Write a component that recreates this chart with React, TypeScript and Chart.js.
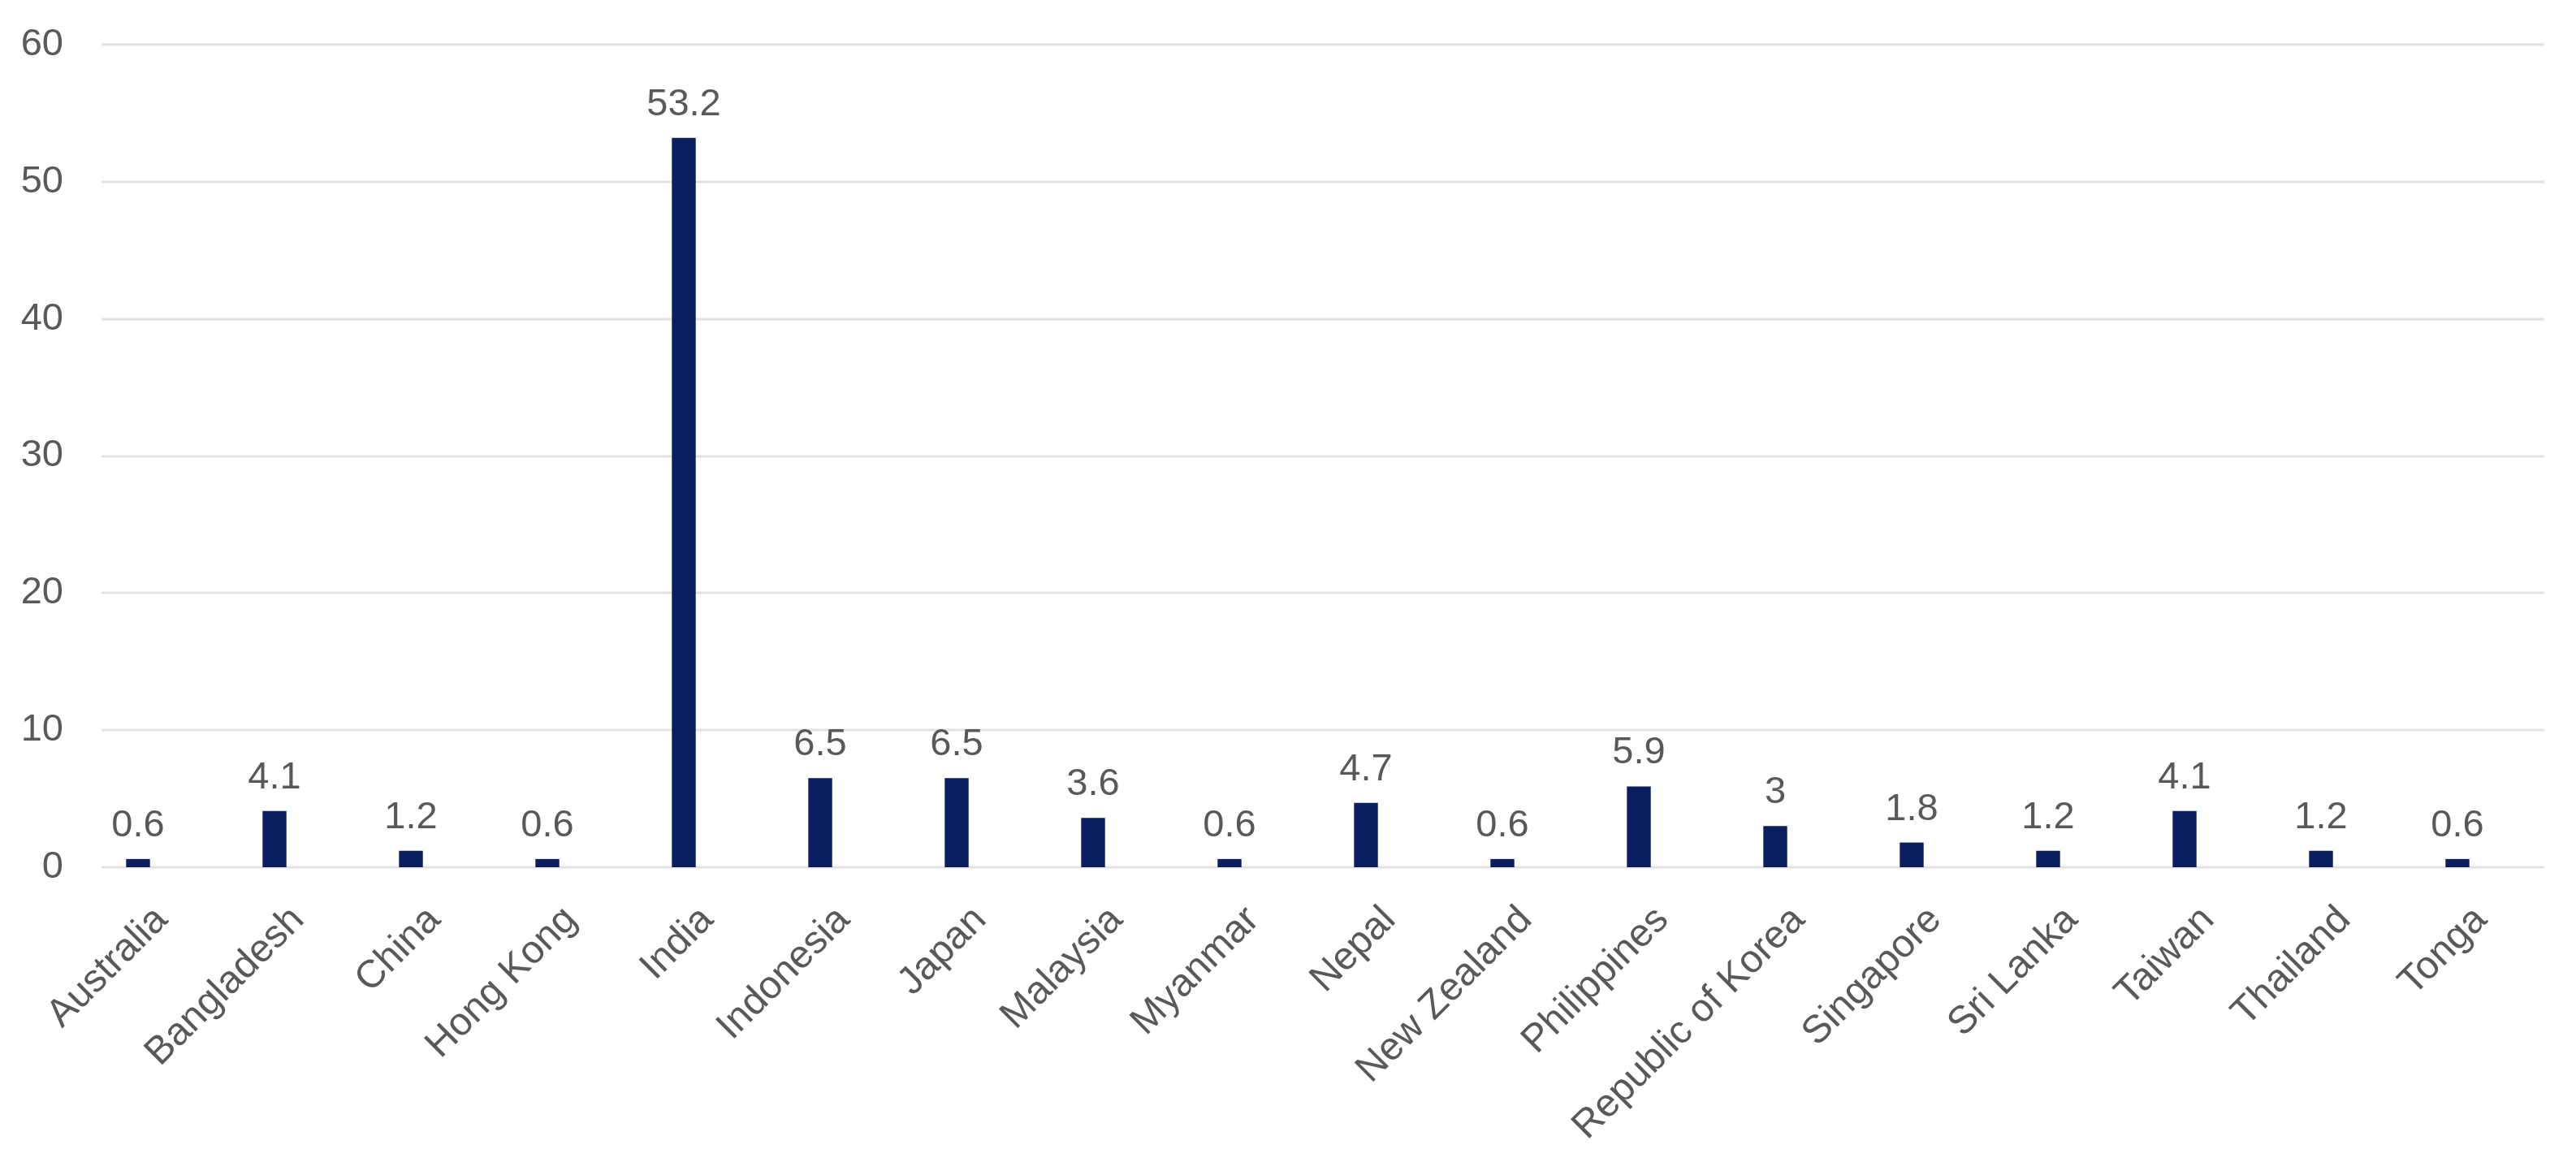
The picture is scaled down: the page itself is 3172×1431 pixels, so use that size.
import React, { useEffect, useRef } from "react";
import { Chart, registerables } from "chart.js";

Chart.register(...registerables);

const categories = [
  "Australia", "Bangladesh", "China", "Hong Kong", "India", "Indonesia",
  "Japan", "Malaysia", "Myanmar", "Nepal", "New Zealand", "Philippines",
  "Republic of Korea", "Singapore", "Sri Lanka", "Taiwan", "Thailand", "Tonga",
];
const values = [0.6, 4.1, 1.2, 0.6, 53.2, 6.5, 6.5, 3.6, 0.6, 4.7, 0.6, 5.9, 3, 1.8, 1.2, 4.1, 1.2, 0.6];
const yTicks = [0, 10, 20, 30, 40, 50, 60];

const W = 3172;
const H = 1431;
const FONT = "'Liberation Sans', Arial, sans-serif";
const TEXT = "#595959";
const GRID = "#e2e2e2";

// horizontal gridlines (the reference's gridlines are shifted slightly right of the bar bands)
const gridLines = {
  id: "gridLines",
  beforeDatasetsDraw(chart: any) {
    const ctx = chart.ctx;
    const y = chart.scales.y;
    const area = chart.chartArea;
    ctx.save();
    ctx.strokeStyle = GRID;
    ctx.lineWidth = 3;
    yTicks.forEach((v) => {
      const py = Math.round(y.getPixelForValue(v));
      ctx.beginPath();
      ctx.moveTo(area.left + 39, py);
      ctx.lineTo(area.right + 23, py);
      ctx.stroke();
    });
    ctx.restore();
  },
};

const valueLabels = {
  id: "valueLabels",
  afterDatasetsDraw(chart: any) {
    const ctx = chart.ctx;
    const meta = chart.getDatasetMeta(0);
    ctx.save();
    ctx.font = `47px ${FONT}`;
    ctx.fillStyle = TEXT;
    ctx.textAlign = "center";
    ctx.textBaseline = "alphabetic";
    meta.data.forEach((bar: any, i: number) => {
      ctx.fillText(String(values[i]), bar.x, bar.y - 28);
    });
    ctx.restore();
  },
};

export default function App() {
  const ref = useRef<HTMLCanvasElement | null>(null);
  useEffect(() => {
    if (!ref.current) return;
    const chart = new Chart(ref.current, {
      type: "bar",
      data: {
        labels: categories,
        datasets: [
          {
            data: values,
            backgroundColor: "#0b1f5e",
            categoryPercentage: 1,
            barPercentage: 0.175,
          },
        ],
      },
      options: {
        responsive: false,
        animation: false,
        devicePixelRatio: 1,
        layout: { padding: { top: 55, right: 62, bottom: 0, left: 0 } },
        plugins: { legend: { display: false }, tooltip: { enabled: false } },
        scales: {
          x: {
            offset: true,
            grid: { display: false, drawTicks: false },
            border: { display: false },
            ticks: {
              color: TEXT,
              font: { family: FONT, size: 48 },
              maxRotation: 45,
              minRotation: 45,
              padding: 37,
              labelOffset: 29,
              autoSkip: false,
            },
            afterFit(scale: any) {
              scale.height = H - 1068;
              scale.paddingLeft = 0;
              scale.paddingRight = 0;
            },
          },
          y: {
            min: 0,
            max: 60,
            afterBuildTicks(scale: any) {
              scale.ticks = yTicks.map((v) => ({ value: v }));
            },
            grid: { display: false, drawTicks: false },
            border: { display: false },
            ticks: {
              color: TEXT,
              font: { family: FONT, size: 47 },
              padding: 8,
            },
            afterFit(scale: any) {
              scale.width = 86;
              scale.paddingTop = 0;
              scale.paddingBottom = 0;
            },
          },
        },
      },
      plugins: [gridLines, valueLabels],
    });
    return () => chart.destroy();
  }, []);
  return (
    <div style={{ position: "fixed", left: 0, top: 0, width: W, height: H, background: "#fff" }}>
      <canvas ref={ref} width={W} height={H} style={{ width: W, height: H }} />
    </div>
  );
}
